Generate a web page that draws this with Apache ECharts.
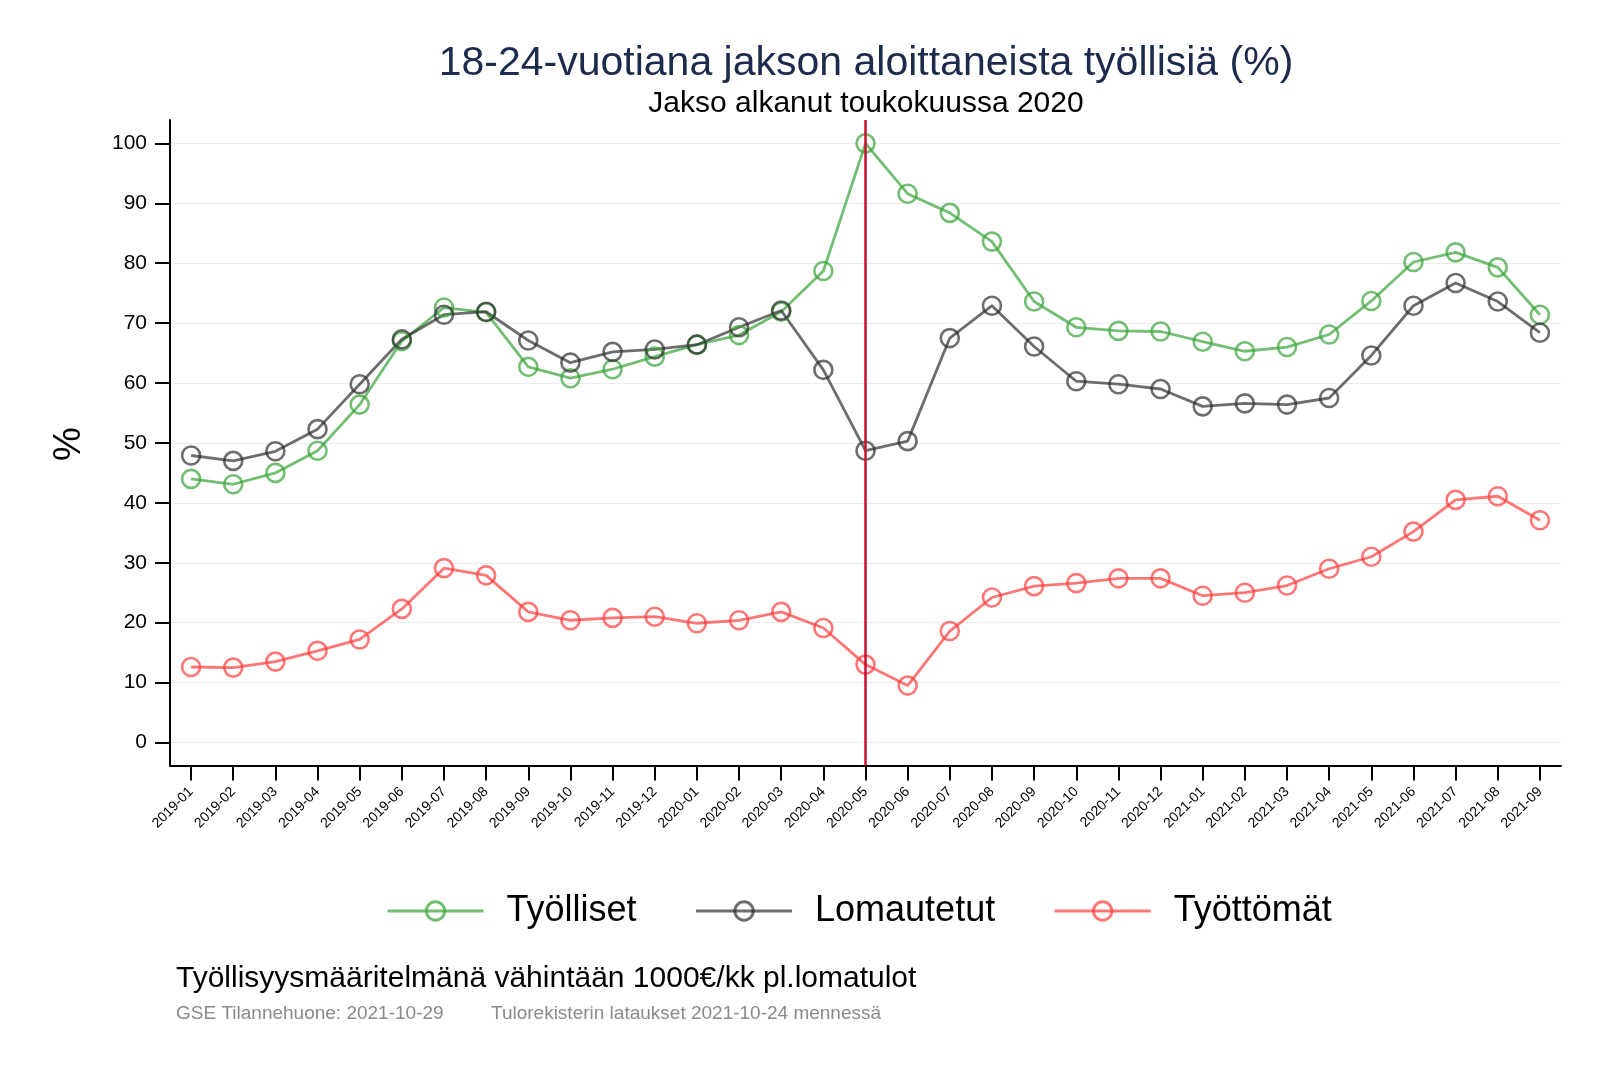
<!DOCTYPE html>
<html>
<head>
<meta charset="utf-8">
<script src="https://cdn.jsdelivr.net/npm/echarts@6/dist/echarts.min.js"></script>
<style>
html,body{margin:0;padding:0;background:#fff;}
#chart{width:1600px;height:1067px;}
</style>
</head>
<body>
<div id="chart"></div>
<script>
var months = ['2019-01','2019-02','2019-03','2019-04','2019-05','2019-06','2019-07','2019-08','2019-09','2019-10','2019-11','2019-12',
  '2020-01','2020-02','2020-03','2020-04','2020-05','2020-06','2020-07','2020-08','2020-09','2020-10','2020-11','2020-12',
  '2021-01','2021-02','2021-03','2021-04','2021-05','2021-06','2021-07','2021-08','2021-09'];
var tyolliset = [44.0,43.1,45.0,48.7,56.4,67.0,72.6,71.8,62.7,60.8,62.3,64.4,
  66.4,68.0,71.9,78.7,100.0,91.6,88.4,83.6,73.6,69.3,68.7,68.6,
  66.9,65.3,66.0,68.1,73.7,80.2,81.8,79.3,71.4];
var lomautetut = [47.9,47.0,48.6,52.3,59.8,67.3,71.4,71.9,67.1,63.4,65.2,65.6,
  66.4,69.3,72.1,62.2,48.7,50.3,67.5,72.9,66.1,60.3,59.8,59.0,
  56.1,56.6,56.4,57.5,64.6,72.9,76.7,73.6,68.4];
var tyottomat = [12.6,12.5,13.5,15.3,17.2,22.3,29.1,27.9,21.8,20.4,20.8,21.0,
  19.9,20.4,21.8,19.1,13.0,9.5,18.6,24.2,26.1,26.6,27.4,27.4,
  24.5,25.0,26.2,29.0,31.0,35.2,40.5,41.1,37.1];
var yTicks = [0,10,20,30,40,50,60,70,80,90,100];
var startMonth = '2020-05';
var seriesNames = ['Työlliset','Lomautetut','Työttömät'];

var FONT = '"Liberation Sans", Arial, Helvetica, sans-serif';
var colors = ['rgba(60,165,60,0.72)','rgba(40,40,40,0.68)','rgba(255,60,60,0.7)'];

function mkSeries(name, data, color, extra) {
  var s = {
    name: name,
    type: 'line',
    data: data,
    symbol: 'circle',
    symbolSize: 18,
    lineStyle: { color: color, width: 2.8 },
    itemStyle: { color: 'rgba(255,255,255,0)', borderColor: color, borderWidth: 2.6 },
    emphasis: { disabled: true },
    z: 3
  };
  if (extra) { for (var k in extra) s[k] = extra[k]; }
  return s;
}

var chart = echarts.init(document.getElementById('chart'), null, { renderer: 'canvas' });
chart.setOption({
  animation: false,
  backgroundColor: '#fff',
  textStyle: { fontFamily: FONT },
  grid: { left: 170, right: 39, top: 120, bottom: 301.5, containLabel: false },
  legend: {
    data: seriesNames,
    left: 386,
    top: 893,
    padding: 0,
    itemWidth: 96,
    itemHeight: 23,
    itemGap: 58,
    lineStyle: { width: 3 },
    itemStyle: { borderWidth: 3 },
    textStyle: { fontSize: 36, color: '#000', fontFamily: FONT, padding: [0, 0, 0, 18] }
  },
  xAxis: {
    type: 'category',
    data: months,
    boundaryGap: true,
    axisLine: { show: true, onZero: false, lineStyle: { color: '#000', width: 2 } },
    axisTick: { show: true, inside: false, alignWithLabel: true, length: 15, interval: 0, lineStyle: { color: '#000', width: 2 } },
    axisLabel: { show: true, rotate: 45, interval: 0, fontSize: 14, color: '#000', margin: 24, fontFamily: FONT },
    splitLine: { show: false }
  },
  yAxis: {
    type: 'value',
    min: -3.84,
    max: 103.9,
    axisLine: { show: true, onZero: false, lineStyle: { color: '#000', width: 2 } },
    axisTick: { show: true, length: 15, customValues: yTicks, lineStyle: { color: '#000', width: 2 } },
    axisLabel: { customValues: yTicks, fontSize: 21, color: '#000', margin: 23, fontFamily: FONT },
    splitLine: { show: true, lineStyle: { color: '#ececec', width: 1 } }
  },
  series: [
    mkSeries(seriesNames[0], tyolliset, colors[0]),
    mkSeries(seriesNames[1], lomautetut, colors[1]),
    mkSeries(seriesNames[2], tyottomat, colors[2], {
      markLine: {
        silent: true,
        symbol: 'none',
        label: { show: false },
        lineStyle: { color: '#c8102e', width: 2.5, type: 'solid' },
        data: [{ xAxis: startMonth }],
        z: 5
      }
    })
  ],
  graphic: [
    { type: 'text', x: 866, y: 64, style: { text: '18-24-vuotiana jakson aloittaneista työllisiä (%)', font: '41px ' + FONT, fill: '#1c2a4d', textAlign: 'center', textVerticalAlign: 'middle' } },
    { type: 'text', x: 866, y: 104, style: { text: 'Jakso alkanut toukokuussa 2020', font: '30px ' + FONT, fill: '#000', textAlign: 'center', textVerticalAlign: 'middle' } },
    { type: 'text', x: 70, y: 444, rotation: Math.PI / 2, style: { text: '%', font: '38px ' + FONT, fill: '#000', textAlign: 'center', textVerticalAlign: 'middle' } },
    { type: 'text', x: 176, y: 979, style: { text: 'Työllisyysmääritelmänä vähintään 1000€/kk pl.lomatulot', font: '30px ' + FONT, fill: '#000', textAlign: 'left', textVerticalAlign: 'middle' } },
    { type: 'text', x: 176, y: 1014, style: { text: 'GSE Tilannehuone: 2021-10-29', font: '19px ' + FONT, fill: '#8a8a8a', textAlign: 'left', textVerticalAlign: 'middle' } },
    { type: 'text', x: 491, y: 1014, style: { text: 'Tulorekisterin lataukset 2021-10-24 mennessä', font: '19px ' + FONT, fill: '#8a8a8a', textAlign: 'left', textVerticalAlign: 'middle' } }
  ]
});
</script>
</body>
</html>
